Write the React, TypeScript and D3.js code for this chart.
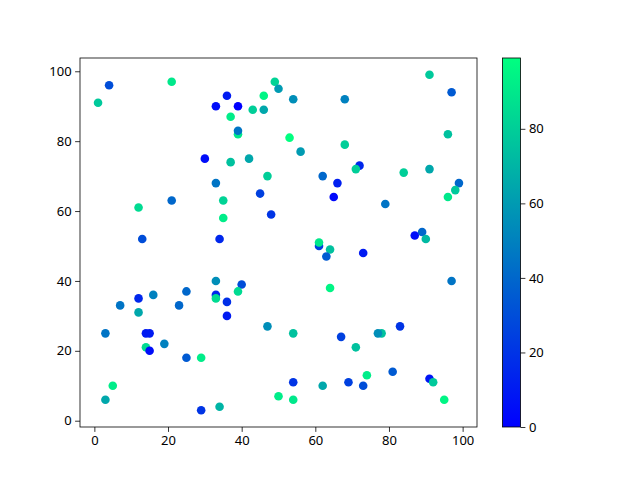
import React, { useEffect, useRef } from "react";
import * as d3 from "d3";

// scatter data (x, y, colour value)
const xs = [
  4, 1, 21, 33, 36, 39, 37, 43, 46, 46, 39, 39, 30, 37, 42, 33, 21, 12, 35, 35,
  45, 13, 34, 49, 50, 54, 68, 91, 97, 53, 56, 68, 96, 72, 71, 84, 91, 47, 62, 66,
  65, 99, 98, 96, 79, 48, 89, 87, 90, 61, 61, 64, 63, 73, 97, 64, 33, 40, 39, 33,
  33, 36, 36, 25, 23, 16, 12, 12, 7, 3, 14, 15, 14, 15, 19, 25, 29, 5, 3, 29,
  34, 47, 54, 67, 71, 78, 77, 83, 74, 81, 91, 92, 54, 62, 69, 73, 50, 54, 95,
];
const ys = [
  96, 91, 97, 90, 93, 90, 87, 89, 89, 93, 82, 83, 75, 74, 75, 68, 63, 61, 63, 58,
  65, 52, 52, 97, 95, 92, 92, 99, 94, 81, 77, 79, 82, 73, 72, 71, 72, 70, 70, 68,
  64, 68, 66, 64, 62, 59, 54, 53, 52, 50, 51, 49, 47, 48, 40, 38, 40, 39, 37, 36,
  35, 34, 30, 37, 33, 36, 35, 31, 33, 25, 25, 25, 21, 20, 22, 18, 18, 10, 6, 3,
  4, 27, 25, 24, 21, 25, 25, 27, 13, 14, 12, 11, 11, 10, 11, 10, 7, 6, 6,
];
const cs = [
  30, 78, 90, 5, 10, 0, 92, 80, 65, 95, 90, 45, 5, 75, 65, 45, 40, 85, 82, 92,
  25, 30, 15, 82, 60, 55, 50, 78, 35, 99, 60, 80, 75, 15, 80, 80, 65, 80, 40, 12,
  3, 40, 78, 90, 45, 20, 40, 5, 72, 25, 90, 75, 35, 10, 45, 95, 55, 30, 85, 15,
  85, 18, 10, 40, 40, 50, 15, 65, 45, 45, 10, 10, 85, 5, 50, 35, 92, 92, 65, 20,
  70, 55, 75, 25, 75, 75, 55, 20, 92, 35, 8, 78, 20, 65, 25, 30, 92, 90, 95,
];
const xTicks = [0, 20, 40, 60, 80, 100];
const yTicks = [0, 20, 40, 60, 80, 100];
const cTicks = [0, 20, 40, 60, 80];

// matplotlib "winter": blue -> spring green
const winter = (t: number) =>
  `rgb(0,${Math.round(255 * t)},${Math.round(255 * (1 - 0.5 * t))})`;

export default function App() {
  const ref = useRef<SVGSVGElement>(null);

  useEffect(() => {
    document.body.style.margin = "0";
    if (!ref.current) return;
    const svg = d3.select(ref.current);
    svg.selectAll("*").remove();

    const W = 640;
    const H = 480;
    const plot = { left: 80, right: 477, top: 58, bottom: 427 };
    const font = "'Noto Sans', 'DejaVu Sans', sans-serif";

    svg.append("rect").attr("width", W).attr("height", H).attr("fill", "#fff");

    const pad = (e: [number, number]) => {
      const s = e[1] - e[0];
      return [e[0] - 0.05 * s, e[1] + 0.05 * s];
    };
    const x = d3
      .scaleLinear()
      .domain(pad(d3.extent(xs) as [number, number]))
      .range([plot.left, plot.right]);
    const y = d3
      .scaleLinear()
      .domain(pad(d3.extent(ys) as [number, number]))
      .range([plot.bottom, plot.top]);
    const cExt = d3.extent(cs) as [number, number];
    const cNorm = d3.scaleLinear().domain(cExt).range([0, 1]);

    // points
    svg
      .append("g")
      .selectAll("circle")
      .data(xs.map((v, i) => ({ x: v, y: ys[i], c: cs[i] })))
      .join("circle")
      .attr("cx", (d) => x(d.x))
      .attr("cy", (d) => y(d.y))
      .attr("r", 4.3)
      .attr("fill", (d) => winter(cNorm(d.c)));

    // frame
    svg
      .append("rect")
      .attr("x", plot.left)
      .attr("y", plot.top)
      .attr("width", plot.right - plot.left)
      .attr("height", plot.bottom - plot.top)
      .attr("fill", "none")
      .attr("stroke", "#000")
      .attr("stroke-width", 0.8);

    const xAxis = svg
      .append("g")
      .attr("transform", `translate(0,${plot.bottom})`)
      .call(d3.axisBottom(x).tickValues(xTicks).tickSize(4.9).tickPadding(3.5));
    const yAxis = svg
      .append("g")
      .attr("transform", `translate(${plot.left},0)`)
      .call(d3.axisLeft(y).tickValues(yTicks).tickSize(4.9).tickPadding(3.5));

    // colorbar
    const cb = { left: 502.5, right: 520.5, top: 58, bottom: 427 };
    const defs = svg.append("defs");
    const grad = defs
      .append("linearGradient")
      .attr("id", "winter-grad")
      .attr("x1", 0)
      .attr("y1", 1)
      .attr("x2", 0)
      .attr("y2", 0);
    d3.range(0, 1.0001, 0.1).forEach((t) => {
      grad
        .append("stop")
        .attr("offset", `${t * 100}%`)
        .attr("stop-color", winter(t));
    });
    svg
      .append("rect")
      .attr("x", cb.left)
      .attr("y", cb.top)
      .attr("width", cb.right - cb.left)
      .attr("height", cb.bottom - cb.top)
      .attr("fill", "url(#winter-grad)")
      .attr("stroke", "#000")
      .attr("stroke-width", 0.8);
    const cy = d3.scaleLinear().domain(cExt).range([cb.bottom, cb.top]);
    const cAxis = svg
      .append("g")
      .attr("transform", `translate(${cb.right},0)`)
      .call(d3.axisRight(cy).tickValues(cTicks).tickSize(4.9).tickPadding(3.5));

    [xAxis, yAxis, cAxis].forEach((g) => {
      g.select(".domain").remove();
      g.selectAll(".tick line").attr("stroke", "#000").attr("stroke-width", 0.8);
      g.selectAll(".tick text")
        .attr("fill", "#000")
        .style("font-family", font)
        .style("font-size", "13px");
    });
  }, []);

  return <svg ref={ref} width={640} height={480} style={{ display: "block" }} />;
}
